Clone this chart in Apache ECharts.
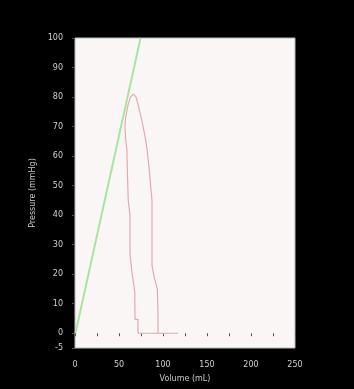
<!DOCTYPE html>
<html>
<head>
<meta charset="utf-8">
<script src="https://cdn.jsdelivr.net/npm/echarts@6/dist/echarts.min.js"></script>
<style>
  html, body { margin: 0; padding: 0; background: #000; }
  #chart { width: 354px; height: 389px; }
</style>
</head>
<body>
<div id="chart"></div>
<script>
// Pressure axis labels (mmHg)
const pressureTicks = [-5, 0, 10, 20, 30, 40, 50, 60, 70, 80, 90, 100];
// Volume axis labels (mL)
const volumeTicks = [0, 50, 100, 150, 200, 250];

// Pressure-volume loop, traced as [volume, pressure]
const loopVolume = [117, 71.6, 71.6, 68.2, 68, 65, 62.5, 62.5, 60.5, 59.5, 59, 57.5, 56.8, 57.5, 60, 63, 66.3,
                    69.5, 72, 76, 80, 82, 84.5, 86, 87.5, 87.5, 90, 93.5, 94.3, 94.3];
const loopPressure = [0, 0, 4.7, 4.7, 14, 20, 27, 40, 45, 55, 62, 66, 70, 73, 77, 80, 81,
                      80, 77, 72, 66, 62, 55, 50, 45, 23, 19, 15, 7, 0];

// End-systolic pressure-volume relation
const espvrVolume = [0.5, 74.5];
const espvrPressure = [0, 100];

const loopData = loopVolume.map((v, i) => [v, loopPressure[i]]);
const espvrData = espvrVolume.map((v, i) => [v, espvrPressure[i]]);

const labelFont = { color: '#d0d0d0', fontSize: 8, fontFamily: 'DejaVu Sans' };

const chart = echarts.init(document.getElementById('chart'));
chart.setOption({
  backgroundColor: '#000',
  animation: false,
  grid: {
    left: 75, right: 59, top: 38, bottom: 41,
    show: true, backgroundColor: '#fbf6f6', borderColor: '#b8b8b8', borderWidth: 1
  },
  xAxis: {
    type: 'value', min: 0, max: 250, interval: 50,
    name: 'Volume (mL)', nameLocation: 'middle', nameGap: 27,
    nameTextStyle: { color: '#c8c8c8', fontSize: 8, fontFamily: 'DejaVu Sans' },
    axisLine: { show: false },
    axisTick: { show: true, length: 3, lineStyle: { color: '#555' } },
    minorTick: { show: true, splitNumber: 2, length: 3, lineStyle: { color: '#555' } },
    splitLine: { show: false },
    axisLabel: Object.assign({ margin: 13, customValues: volumeTicks }, labelFont)
  },
  yAxis: {
    type: 'value', min: -5, max: 100,
    name: 'Pressure (mmHg)', nameLocation: 'middle', nameGap: 36, nameRotate: 90,
    nameTextStyle: { color: '#c8c8c8', fontSize: 8, fontFamily: 'DejaVu Sans' },
    axisLine: { show: false },
    axisTick: { show: true, length: 3, customValues: pressureTicks, lineStyle: { color: '#555' } },
    splitLine: { show: false },
    axisLabel: Object.assign({ margin: 12, customValues: pressureTicks }, labelFont)
  },
  series: [
    {
      type: 'line', data: espvrData, symbol: 'none', clip: true,
      lineStyle: { color: '#a8e6a0', width: 2 }
    },
    {
      type: 'line', data: loopData, symbol: 'none', clip: true,
      lineStyle: { color: '#e2aab0', width: 1.2 }
    }
  ]
});
</script>
</body>
</html>
